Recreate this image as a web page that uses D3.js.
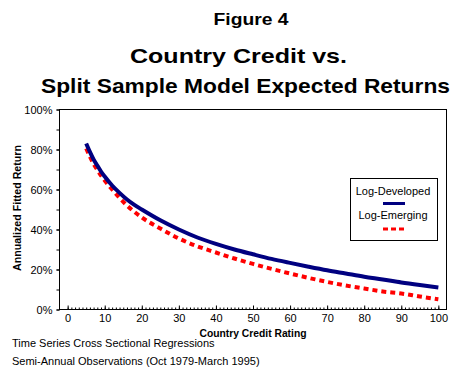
<!DOCTYPE html>
<html>
<head>
<meta charset="utf-8">
<script src="https://cdn.jsdelivr.net/npm/d3@7"></script>
<style>
  body { margin: 0; background: #fff; }
  text { font-family: "Liberation Sans", Arial, sans-serif; fill: #000; }
</style>
</head>
<body>
<div class="res"></div>
<script>
// credit rating (x) and fitted returns (%)
const ratings = [5, 6, 7, 8, 9, 10, 12, 14, 16, 18, 20, 25, 30, 35, 40, 45, 50, 55, 60, 65, 70, 75, 80, 85, 90, 95, 100];
const developed = [83.0, 78.8, 75.0, 72.0, 69.0, 66.5, 62.0, 58.3, 55.0, 52.3, 50.0, 44.6, 40.0, 36.0, 32.8, 30.0, 27.6, 25.3, 23.3, 21.4, 19.6, 18.0, 16.4, 15.0, 13.5, 12.2, 11.0];
const emerging = [80.5, 76.5, 72.8, 69.8, 67.0, 64.5, 60.0, 55.8, 52.0, 48.8, 46.0, 40.5, 35.5, 31.6, 28.5, 25.5, 22.8, 20.3, 18.0, 15.8, 13.8, 12.0, 10.5, 9.0, 8.0, 6.5, 5.1];
const xTicks = [0, 10, 20, 30, 40, 50, 60, 70, 80, 90, 100];
const yTicks = [0, 20, 40, 60, 80, 100];
const seriesNames = ['Log-Developed', 'Log-Emerging'];

const W = 465, H = 368;
const plot = { left: 59.5, top: 109.5, right: 446.5, bottom: 309.5 };

const svg = d3.select('div.res')
    .append('svg')
    .attr('width', W)
    .attr('height', H);

// scales
const x = d3.scaleLinear().domain([-2.2, 102.2]).range([plot.left, plot.right]);
const y = d3.scaleLinear().domain([0, 100]).range([plot.bottom, plot.top]);

/**
 * TITLES
 */
svg.append('text').attr('x', 251).attr('y', 25)
    .attr('text-anchor', 'middle')
    .style('font-size', '17px').style('font-weight', 'bold')
    .attr('textLength', 75).attr('lengthAdjust', 'spacingAndGlyphs')
    .text('Figure 4');
svg.append('text').attr('x', 238.5).attr('y', 62.7)
    .attr('text-anchor', 'middle')
    .style('font-size', '21px').style('font-weight', 'bold')
    .attr('textLength', 217).attr('lengthAdjust', 'spacingAndGlyphs')
    .text('Country Credit vs.');
svg.append('text').attr('x', 245.5).attr('y', 92.7)
    .attr('text-anchor', 'middle')
    .style('font-size', '21px').style('font-weight', 'bold')
    .attr('textLength', 409).attr('lengthAdjust', 'spacingAndGlyphs')
    .text('Split Sample Model Expected Returns');

/**
 * AXES
 */
// x minor ticks, every unit, pointing up
svg.append('g')
    .attr('transform', `translate(0, ${plot.bottom})`)
    .call(d3.axisBottom(x).tickValues(d3.range(0, 101, 1)).tickSizeInner(-2).tickSizeOuter(0).tickFormat(''))
    .call(g => g.select('.domain').remove());

// x major ticks
svg.append('g')
    .attr('transform', `translate(0, ${plot.bottom})`)
    .call(d3.axisBottom(x).tickValues(xTicks).tickSizeInner(-4).tickSizeOuter(0).tickPadding(5))
    .call(g => g.select('.domain').remove())
    .call(g => g.selectAll('text').style('font-size', '11px').style('font-family', '"Liberation Sans", Arial, sans-serif'));

// y ticks every 10%, labels every 20%
svg.append('g')
    .attr('transform', `translate(${plot.left}, 0)`)
    .call(d3.axisLeft(y).tickValues(d3.range(0, 101, 10)).tickSize(3).tickFormat(''))
    .call(g => g.select('.domain').remove());
svg.append('g')
    .attr('transform', `translate(${plot.left}, 0)`)
    .call(d3.axisLeft(y).tickValues(yTicks).tickSize(3).tickPadding(4).tickFormat(d => d + '%'))
    .call(g => g.select('.domain').remove())
    .call(g => g.selectAll('text').style('font-size', '11px').style('font-family', '"Liberation Sans", Arial, sans-serif'));

svg.selectAll('.tick line').attr('stroke', '#000');

// plot frame
svg.append('rect')
    .attr('x', plot.left).attr('y', plot.top)
    .attr('width', plot.right - plot.left).attr('height', plot.bottom - plot.top)
    .attr('fill', 'none').attr('stroke', '#000').attr('stroke-width', 1);

// axis titles
svg.append('text').attr('x', 253).attr('y', 337)
    .attr('text-anchor', 'middle')
    .style('font-size', '11px').style('font-weight', 'bold')
    .attr('textLength', 107).attr('lengthAdjust', 'spacingAndGlyphs')
    .text('Country Credit Rating');
svg.append('text')
    .attr('transform', 'translate(21, 208) rotate(-90)')
    .attr('text-anchor', 'middle')
    .style('font-size', '11px').style('font-weight', 'bold')
    .attr('textLength', 126).attr('lengthAdjust', 'spacingAndGlyphs')
    .text('Annualized Fitted Return');

// footnotes
svg.append('text').attr('x', 12).attr('y', 347)
    .style('font-size', '11px')
    .text('Time Series Cross Sectional Regressions');
svg.append('text').attr('x', 12).attr('y', 365)
    .style('font-size', '11px')
    .text('Semi-Annual Observations (Oct 1979-March 1995)');

/**
 * LINES
 */
const line = vals => d3.line()
    .x((d, i) => x(ratings[i]))
    .y(d => y(d))
    .curve(d3.curveMonotoneX)(vals);

svg.append('path')
    .attr('d', line(emerging))
    .attr('fill', 'none')
    .attr('stroke', '#ff0000')
    .attr('stroke-width', 4)
    .attr('stroke-dasharray', '5,4');

svg.append('path')
    .attr('d', line(developed))
    .attr('fill', 'none')
    .attr('stroke', '#000080')
    .attr('stroke-width', 4);

/**
 * LEGEND
 */
const legend = svg.append('g');
legend.append('rect')
    .attr('x', 350.5).attr('y', 178.5).attr('width', 87).attr('height', 62)
    .attr('fill', '#fff').attr('stroke', '#000');
legend.append('text').attr('x', 393).attr('y', 195)
    .attr('text-anchor', 'middle').style('font-size', '11px')
    .text(seriesNames[0]);
legend.append('line')
    .attr('x1', 383).attr('x2', 405).attr('y1', 203.5).attr('y2', 203.5)
    .attr('stroke', '#000080').attr('stroke-width', 3);
legend.append('text').attr('x', 393).attr('y', 219)
    .attr('text-anchor', 'middle').style('font-size', '11px')
    .text(seriesNames[1]);
legend.append('line')
    .attr('x1', 383).attr('x2', 405).attr('y1', 229).attr('y2', 229)
    .attr('stroke', '#ff0000').attr('stroke-width', 3)
    .attr('stroke-dasharray', '5,3');
</script>
</body>
</html>
